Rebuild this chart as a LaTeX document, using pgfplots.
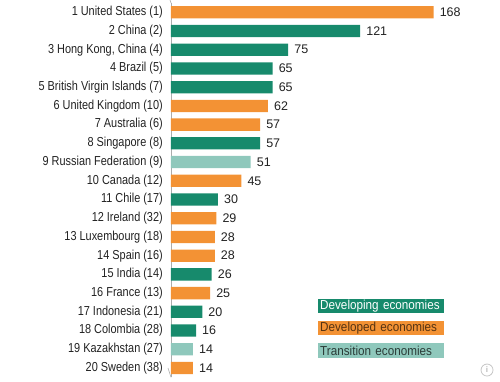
\documentclass[border=0pt]{standalone}
\usepackage{pgfplots}
\pgfplotsset{compat=1.18}
\usepackage{fontspec}
\setmainfont{Liberation Sans}
\newfontfamily\condfont[FakeStretch=0.84]{Liberation Sans}
\newfontfamily\legfont[FakeStretch=0.90]{Liberation Sans}
\definecolor{developed}{HTML}{F39234}
\definecolor{developing}{HTML}{178A6C}
\definecolor{transition}{HTML}{8FC8BC}
\definecolor{labtext}{HTML}{222222}
\begin{document}
\begin{tikzpicture}
\useasboundingbox (-171bp,-4.66bp) rectangle (329bp,377.34bp);
\begin{axis}[
  at={(0,0)}, anchor=south west,
  scale only axis, width=309bp, height=374.4bp,
  xmin=0, xmax=197.7, ymin=0.5, ymax=20.5, y dir=reverse,
  axis x line=none, axis y line*=left,
  y axis line style={draw=gray!65, line width=0.6pt, -},
  ytick={1,...,20},
  yticklabels={1 United States (1),2 China (2),{3 Hong Kong, China (4)},4 Brazil (5),5 British Virgin Islands (7),6 United Kingdom (10),7 Australia (6),8 Singapore (8),9 Russian Federation (9),10 Canada (12),11 Chile (17),12 Ireland (32),13 Luxembourg (18),14 Spain (16),15 India (14),16 France (13),17 Indonesia (21),18 Colombia (28),19 Kazakhstan (27),20 Sweden (38)},
  major tick length=0pt,
  yticklabel style={font=\condfont\fontsize{13bp}{14bp}\selectfont, text=labtext, inner sep=0pt, anchor=east, xshift=-8bp},
  xbar, bar width=12.3bp, bar shift=0pt,
  nodes near coords, point meta=x,
  /pgf/number format/assume math mode=true,
  nodes near coords style={font=\fontsize{12.5bp}{14bp}\selectfont, text=labtext, anchor=west, inner sep=0pt, xshift=6bp, /pgf/number format/assume math mode=true},
  clip=false,
]
\addplot[fill=developed, draw=none] coordinates {(168,1) (62,6) (57,7) (45,10) (29,12) (28,13) (28,14) (25,16) (14,20)};
\addplot[fill=developing, draw=none] coordinates {(121,2) (75,3) (65,4) (65,5) (57,8) (30,11) (26,15) (20,17) (16,18)};
\addplot[fill=transition, draw=none] coordinates {(51,9) (14,19)};
\draw[gray!65, line width=0.6pt] (axis cs:0,0.5) -- ++(-3bp,0);
\draw[gray!65, line width=0.6pt] (axis cs:0,20.5) -- ++(-3bp,0);
\node[anchor=west, fill=developing, text=white, font=\legfont\fontsize{13bp}{14bp}\selectfont, minimum height=14bp, text width=122bp, inner xsep=2bp, inner ysep=0pt, align=left] at (axis cs:94.05,16.69) {Developing economies};
\node[anchor=west, fill=developed, text=developed!35!black, font=\legfont\fontsize{13bp}{14bp}\selectfont, minimum height=14bp, text width=122bp, inner xsep=2bp, inner ysep=0pt, align=left] at (axis cs:94.05,17.86) {Developed economies};
\node[anchor=west, fill=transition, text=transition!30!black, font=\legfont\fontsize{13bp}{14bp}\selectfont, minimum height=15bp, text width=122bp, inner xsep=2bp, inner ysep=0pt, align=left] at (axis cs:94.05,19.09) {Transition economies};
\node[circle, draw=gray!45, line width=0.8pt, inner sep=0pt, minimum size=12bp, text=gray!55, font=\fontsize{8bp}{8bp}\selectfont\bfseries] at (axis cs:202.2,20.11) {i};
\end{axis}
\end{tikzpicture}
\end{document}
